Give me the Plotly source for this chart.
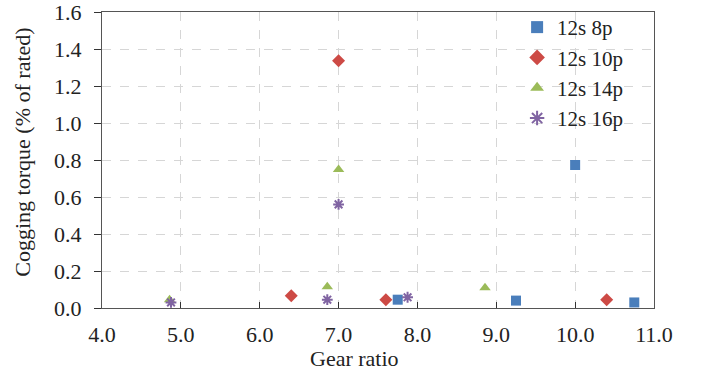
import plotly.graph_objects as go

x_8p = [7.75, 9.25, 10.0, 10.75]
y_8p = [0.045, 0.04, 0.773, 0.03]
x_10p = [6.4, 7.0, 7.6, 10.4]
y_10p = [0.066, 1.337, 0.045, 0.045]
x_14p = [4.857, 6.857, 7.0, 8.857]
y_14p = [0.045, 0.115, 0.748, 0.11]
x_16p = [4.875, 6.857, 7.0, 7.875]
y_16p = [0.03, 0.045, 0.56, 0.058]

x_ticks = [4, 5, 6, 7, 8, 9, 10, 11]
y_ticks = [0.0, 0.2, 0.4, 0.6, 0.8, 1.0, 1.2, 1.4, 1.6]

font = "Liberation Serif, Times New Roman, serif"

fig = go.Figure()
fig.add_trace(go.Scatter(x=x_8p, y=y_8p, mode="markers", name="12s 8p",
                         marker=dict(symbol="square", size=10, color="#4a7ebb")))
fig.add_trace(go.Scatter(x=x_10p, y=y_10p, mode="markers", name="12s 10p",
                         marker=dict(symbol="diamond", size=10, color="#cd4a45")))
fig.add_trace(go.Scatter(x=x_14p, y=y_14p, mode="markers", name="12s 14p",
                         marker=dict(symbol="triangle-up", size=10, color="#9bbb59")))
fig.add_trace(go.Scatter(x=x_16p, y=y_16p, mode="markers", name="12s 16p",
                         marker=dict(symbol="asterisk-open", size=9, color="#8064a2",
                                     line=dict(width=2, color="#8064a2"))))

fig.update_layout(
    width=709, height=374,
    margin=dict(l=102, r=55, t=12, b=66, autoexpand=False),
    paper_bgcolor="white", plot_bgcolor="white",
    font=dict(family=font, size=22, color="#222"),
    showlegend=True,
    legend=dict(x=0.752, y=1.017, xanchor="left", yanchor="top",
                bgcolor="rgba(0,0,0,0)", font=dict(size=21),
                itemsizing="constant", tracegroupgap=0),
    xaxis=dict(range=[4, 11], tickvals=x_ticks,
               ticktext=[f"{v:.1f}" for v in x_ticks],
               showgrid=True, gridcolor="#d6d6d6", griddash="dash", gridwidth=1,
               showline=True, linecolor="#555", linewidth=1.3, mirror=True,
               ticks="inside", ticklen=6, tickcolor="#333", zeroline=False,
               ticklabelstandoff=6, ticklabeloverflow="allow"),
    yaxis=dict(range=[0, 1.6], tickvals=y_ticks,
               ticktext=[f"{v:.1f}" for v in y_ticks],
               showgrid=True, gridcolor="#d6d6d6", griddash="dash", gridwidth=1,
               showline=True, linecolor="#555", linewidth=1.3, mirror=True,
               ticks="outside", ticklen=7, tickcolor="#333", zeroline=False,
               ticklabelstandoff=8, ticklabeloverflow="allow"),
    annotations=[
        dict(text="Gear ratio", xref="paper", yref="paper",
             x=0.458, y=-0.169, xanchor="center", yanchor="middle",
             showarrow=False, font=dict(size=22)),
        dict(text="Cogging torque (% of rated)", xref="paper", yref="paper",
             x=-0.143, y=0.525, xanchor="center", yanchor="middle", textangle=-90,
             showarrow=False, font=dict(size=22)),
    ],
)

fig.write_html(
    "out.html",
    config={"displayModeBar": False},
    post_script="document.body.style.margin='0';document.body.style.overflow='hidden';",
)
